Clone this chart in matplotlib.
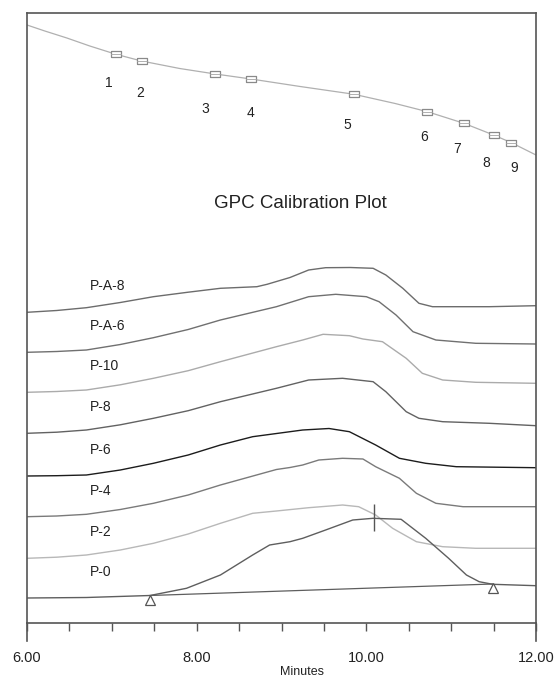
import matplotlib
matplotlib.use("Agg")
import matplotlib.pyplot as plt
import matplotlib.transforms as mtransforms
from matplotlib.ticker import FixedLocator, MultipleLocator

plt.rcParams['font.family'] = ['Liberation Sans', 'DejaVu Sans']

# calibration standards (elution time in minutes, plotted level)
cal_names = ['1', '2', '3', '4', '5', '6', '7', '8', '9']
cal_time = [7.05, 7.35, 8.22, 8.64, 9.85, 10.72, 11.15, 11.50, 11.71]
cal_level = [568.7, 562.0, 549.0, 544.0, 528.8, 511.3, 499.7, 488.0, 480.3]
cal_label_time = [6.97, 7.34, 8.10, 8.64, 9.77, 10.68, 11.07, 11.41, 11.74]
cal_label_level = [539.7, 529.7, 514.0, 509.7, 498.0, 485.7, 473.7, 460.3, 454.7]

# calibration fit line
fit_time = [6.00, 6.21, 6.47, 6.74, 7.05, 7.35, 7.80, 8.22, 8.64, 9.22,
            9.85, 10.34, 10.72, 11.15, 11.50, 11.71, 12.00]
fit_level = [598.0, 592.0, 585.0, 577.0, 568.7, 562.0, 554.5, 549.0, 544.0, 536.5,
             528.8, 519.5, 511.3, 499.7, 488.0, 480.3, 468.0]

# detector traces, stacked (time in minutes, signal level)
pa8_t = [6.00, 6.35, 6.70, 7.10, 7.49, 7.90, 8.28, 8.71, 8.83, 9.10, 9.32, 9.52, 9.81,
         10.08, 10.23, 10.43, 10.62, 10.78, 11.45, 12.00]
pa8_h = [310.7, 312.5, 315.3, 320.5, 326.3, 330.8, 334.7, 336.3, 338.7, 345.5, 353.0, 355.3, 355.5,
         354.7, 348.0, 334.7, 319.7, 316.3, 316.3, 317.3]

pa6_t = [6.00, 6.35, 6.70, 7.10, 7.49, 7.90, 8.28, 8.94, 9.32, 9.64, 10.00, 10.15, 10.35,
         10.55, 10.82, 11.29, 12.00]
pa6_h = [270.7, 271.5, 273.0, 278.5, 285.3, 293.5, 303.0, 316.3, 326.3, 328.7, 326.3, 321.3, 308.0,
         291.3, 283.0, 279.7, 279.0]

p10_t = [6.00, 6.35, 6.70, 7.10, 7.49, 7.90, 8.28, 8.94, 9.25, 9.49, 9.80, 9.96, 10.19,
         10.47, 10.66, 10.90, 11.29, 12.00]
p10_h = [230.7, 231.5, 233.0, 238.2, 244.7, 252.3, 261.3, 276.3, 283.0, 288.7, 287.3, 284.0, 281.3,
         264.7, 249.7, 243.0, 240.7, 239.7]

p8_t = [6.00, 6.35, 6.70, 7.10, 7.49, 7.90, 8.28, 8.94, 9.32, 9.72, 10.08, 10.23, 10.47,
        10.62, 10.90, 11.45, 12.00]
p8_h = [189.7, 190.8, 193.0, 198.2, 204.7, 212.3, 221.3, 234.7, 243.0, 244.7, 241.3, 231.3, 211.3,
        204.7, 201.3, 199.7, 197.3]

p6_t = [6.00, 6.35, 6.70, 7.10, 7.49, 7.90, 8.28, 8.66, 9.10, 9.25, 9.56, 9.80, 10.11,
        10.39, 10.70, 11.06, 12.00]
p6_h = [147.0, 147.3, 148.0, 153.0, 159.7, 168.0, 178.0, 186.3, 191.3, 193.0, 194.5, 191.3, 178.0,
        164.7, 159.7, 156.3, 155.3]

p4_t = [6.00, 6.35, 6.70, 7.10, 7.49, 7.90, 8.28, 8.94, 9.10, 9.25, 9.44, 9.72, 9.96,
        10.11, 10.39, 10.59, 10.82, 11.14, 12.00]
p4_h = [106.3, 107.0, 108.7, 113.5, 119.7, 128.0, 138.0, 153.5, 155.5, 158.0, 163.0, 164.7, 164.0,
        156.3, 144.7, 129.7, 119.7, 116.3, 116.3]

p2_t = [6.00, 6.35, 6.70, 7.10, 7.49, 7.90, 8.28, 8.66, 8.94, 9.32, 9.72, 9.91, 10.11,
        10.31, 10.59, 10.90, 11.29, 12.00]
p2_h = [64.7, 65.8, 68.0, 73.0, 79.7, 89.0, 99.7, 109.7, 112.0, 115.3, 118.0, 116.3, 108.0,
        94.7, 81.3, 76.3, 74.7, 74.7]

p0_t = [6.00, 6.70, 7.45, 7.88, 8.28, 8.66, 8.86, 9.10, 9.25, 9.52, 9.84, 10.08,
        10.41, 10.70, 10.97, 11.18, 11.33, 11.49, 12.00]
p0_h = [25.0, 25.5, 27.5, 34.7, 48.0, 68.0, 78.0, 81.3, 84.7, 93.0, 103.0, 104.7,
        103.7, 84.7, 64.7, 48.0, 41.3, 38.7, 37.3]

# integration limits and peak apex for P-0
p0_limit_t = [7.45, 11.49]
p0_limit_h = [27.5, 39.0]
p0_peak_t = 10.09
p0_peak_h = 105.0

trace_names = ['P-A-8', 'P-A-6', 'P-10', 'P-8', 'P-6', 'P-4', 'P-2', 'P-0']
trace_data = [(pa8_t, pa8_h), (pa6_t, pa6_h), (p10_t, p10_h), (p8_t, p8_h),
              (p6_t, p6_h), (p4_t, p4_h), (p2_t, p2_h), (p0_t, p0_h)]
trace_colors = ['#6c6c6c', '#707070', '#ababab', '#626262',
                '#1c1c1c', '#7a7a7a', '#b8b8b8', '#5e5e5e']

fig = plt.figure(figsize=(5.56, 6.81), dpi=100)
ax = fig.add_axes([27 / 556, 58 / 681, 509 / 556, 610 / 681])
ax.set_xlim(6, 12)
ax.set_ylim(0, 610)

# calibration curve with the standards
ax.plot(fit_time, fit_level, color='#b0b0b0', lw=0.9)
rect = [(-1, -0.6), (1, -0.6), (1, 0.6), (-1, 0.6), (-1, -0.6)]
ax.plot(cal_time, cal_level, ls='none', marker=rect, ms=6.5, mfc='white',
        mec='#8a8a8a', mew=0.9)
ax.plot(cal_time, cal_level, ls='none', marker='_', ms=6.5, mec='#b0b0b0', mew=0.7)
for name, t, h in zip(cal_names, cal_label_time, cal_label_level):
    ax.text(t, h, name, ha='center', va='center', fontsize=10, color='#222222')

ax.text(9.22, 419, 'GPC Calibration Plot', ha='center', va='center',
        fontsize=13.5, color='#222222')

for name, (t, h), c in zip(trace_names, trace_data, trace_colors):
    ax.plot(t, h, color=c, lw=1.0)
    ax.text(6.74, h[0] + 26, name, ha='left', va='center', fontsize=10,
            color='#222222')

# baseline and peak marks on P-0
ax.plot(p0_limit_t, p0_limit_h, color='#5e5e5e', lw=0.9)
tri = mtransforms.offset_copy(ax.transData, fig=fig, y=-3.2, units='points')
ax.plot(p0_limit_t, p0_limit_h, ls='none', marker='^', ms=6.5, mfc='white',
        mec='#555555', mew=0.9, transform=tri)
ax.vlines(p0_peak_t, p0_peak_h - 13, p0_peak_h + 14, color='#555555', lw=1.0)

# axis styling
for side in ['top', 'bottom', 'left', 'right']:
    ax.spines[side].set_color('#555555')
    ax.spines[side].set_linewidth(1.2)
ax.set_yticks([])
ax.xaxis.set_major_locator(FixedLocator([6, 8, 10, 12]))
ax.xaxis.set_minor_locator(MultipleLocator(0.5))
ax.set_xticklabels(['6.00', '8.00', '10.00', '12.00'])
ax.tick_params(axis='x', which='both', direction='out', length=5.5, width=1.0,
               color='#555555', labelsize=10.5, pad=15, labelcolor='#222222')

# side frame lines run a little past the time axis
edge = mtransforms.blended_transform_factory(ax.transData, ax.transAxes)
for t in [6, 12]:
    ax.plot([t, t], [0, -0.03], color='#555555', lw=1.2, transform=edge,
            clip_on=False)

fig.text(302 / 556, 1 - 672 / 681, 'Minutes', ha='center', va='center',
         fontsize=9, color='#222222')

fig.savefig('out.png', dpi=100)
